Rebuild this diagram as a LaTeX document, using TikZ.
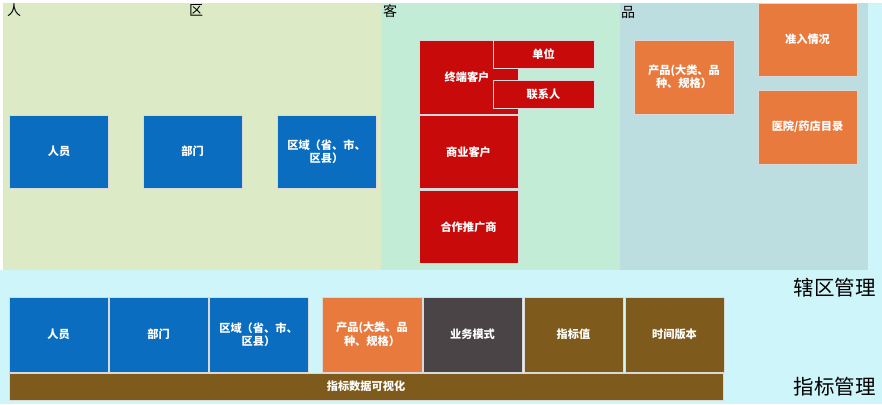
\documentclass[tikz,border=0pt]{standalone}
\usepackage{fontspec}
\setmainfont{Noto Sans CJK SC}
\definecolor{panelA}{HTML}{DCEAC6}
\definecolor{panelB}{HTML}{C3ECD6}
\definecolor{panelC}{HTML}{BDDEE1}
\definecolor{bottombg}{HTML}{CDF5FA}
\definecolor{cblue}{HTML}{0A6DC0}
\definecolor{cred}{HTML}{C80A0A}
\definecolor{corange}{HTML}{E87A3E}
\definecolor{cgray}{HTML}{4B4446}
\definecolor{cbrown}{HTML}{7E5A1C}
\tikzset{
  px/.style={x=1pt,y=-1pt},
  cell/.style={draw=white!85!black, line width=0.6pt, inner sep=0pt, text=white, font=\fontsize{11.2}{13.5}\selectfont\bfseries, align=center},
  head/.style={font=\fontsize{14}{16}\selectfont, text=black, inner sep=0pt, anchor=north west},
  biglabel/.style={font=\fontsize{20.5}{23}\selectfont, text=black, inner sep=0pt}
}
\begin{document}
\begin{tikzpicture}[px]
\useasboundingbox (0,0) rectangle (882,404);
\fill[white] (0,0) rectangle (882,404);
\fill[bottombg] (0,270) rectangle (882,404);
\fill[bottombg] (868,3) rectangle (882,270);
\fill[panelA] (3,3) rectangle (381,270);
\fill[panelB] (381,3) rectangle (620,270);
\fill[panelC] (620,3) rectangle (868,270);
% headings
\node[head] (hren) at (7,4) {人};
\node[head] (hqu) at (189,4) {区};
\node[head] (hke) at (383,4) {客};
\node[head] (hpin) at (621,6) {品};
% top blue
\node[cell, fill=cblue, minimum width=99pt, minimum height=73pt] (t1) at (59,151.5) {人员};
\node[cell, fill=cblue, minimum width=99pt, minimum height=73pt] (t2) at (192.5,151.5) {部门};
\node[cell, fill=cblue, minimum width=99pt, minimum height=73pt] (t3) at (326.5,151.5) {区域（省、市、\\区县）};
% red
\node[cell, fill=cred, minimum width=99pt, minimum height=74pt] (r1) at (468.5,77) {\hspace*{-3pt}终端客户};
\node[cell, fill=cred, minimum width=101pt, minimum height=28pt] (r2) at (543.5,54) {单位};
\node[cell, fill=cred, minimum width=101pt, minimum height=28pt] (r3) at (543.5,94) {联系人};
\node[cell, fill=cred, minimum width=99pt, minimum height=73pt] (r4) at (468.5,152) {商业客户};
\node[cell, fill=cred, minimum width=99pt, minimum height=73pt] (r5) at (468.5,227) {合作推广商};
% orange
\node[cell, fill=corange, minimum width=100pt, minimum height=74pt] (o1) at (684,77) {产品(大类、品\\种、规格）};
\node[cell, fill=corange, minimum width=99pt, minimum height=73pt] (o2) at (807.5,39.5) {准入情况};
\node[cell, fill=corange, minimum width=99pt, minimum height=74pt] (o3) at (807.5,127) {医院/药店目录};
% labels
\node[biglabel, anchor=east] (lxq) at (876,288) {辖区管理};
\node[biglabel, anchor=east] (lzb) at (876,387) {指标管理};
% bottom row
\node[cell, fill=cblue, minimum width=99pt, minimum height=75pt] (b1) at (58.5,334.5) {人员};
\node[cell, fill=cblue, minimum width=99pt, minimum height=75pt] (b2) at (158.5,334.5) {部门};
\node[cell, fill=cblue, minimum width=99pt, minimum height=75pt] (b3) at (258.5,334.5) {区域（省、市、\\区县）};
\node[cell, fill=corange, minimum width=100pt, minimum height=75pt] (b4) at (372,334.5) {产品(大类、品\\种、规格）};
\node[cell, fill=cgray, minimum width=99pt, minimum height=75pt] (b5) at (472.5,334.5) {业务模式};
\node[cell, fill=cbrown, minimum width=99pt, minimum height=75pt] (b6) at (573.5,334.5) {指标值};
\node[cell, fill=cbrown, minimum width=99pt, minimum height=75pt] (b7) at (674.5,334.5) {时间版本};
\node[cell, fill=cbrown, minimum width=714pt, minimum height=27pt] (bar) at (366,386.5) {指标数据可视化};
\end{tikzpicture}
\end{document}
